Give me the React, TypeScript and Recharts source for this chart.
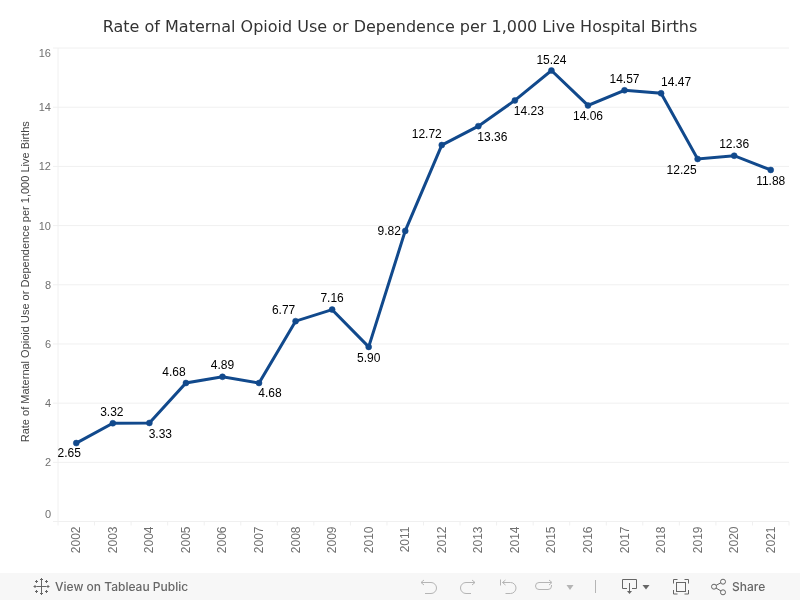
/**
 * Maternal opioid use line chart, with the Tableau Public toolbar underneath.
 */

import React from 'react';
import { CartesianGrid, Label, Line, LineChart, XAxis, YAxis } from 'recharts';

const years = [
  '2002', '2003', '2004', '2005', '2006', '2007', '2008', '2009', '2010', '2011',
  '2012', '2013', '2014', '2015', '2016', '2017', '2018', '2019', '2020', '2021',
];
const rates = [
  2.65, 3.32, 3.33, 4.68, 4.89, 4.68, 6.77, 7.16, 5.9, 9.82,
  12.72, 13.36, 14.23, 15.24, 14.06, 14.57, 14.47, 12.25, 12.36, 11.88,
];
const yTicks = [0, 2, 4, 6, 8, 10, 12, 14, 16];

const chartTitle = 'Rate of Maternal Opioid Use or Dependence per 1,000 Live Hospital Births';
const yTitle = 'Rate of Maternal Opioid Use or Dependence per 1,000 Live Births';

const data = years.map((year, i) => ({ year, rate: rates[i] }));

// hand placed label nudges, one [dx, dy] per year, same order as years
const labelNudges: [number, number][] = [
  [-7, 10], [-1, -11], [11, 11], [-12, -11], [0, -12], [11, 10], [-12, -11], [0, -11.5], [0, 11], [-16, 0],
  [-15, -11], [14, 11], [14, 11], [0, -10.5], [0, 11], [0, -11], [15, -11], [-16, 11], [0, -11.5], [0, 11],
];

const GRID = '#f0f0f0';
const LINE = '#11498c';
const TICK_TEXT = '#707070';
const FONT = '"Liberation Sans", Arial, sans-serif';

const YTick = (props: any) => {
  const { x, y, payload } = props;
  // Tableau keeps the first and last labels inside the pane
  const textY = Math.max(Math.min(y, 514), 53);
  return (
    <g>
      <line x1={x - 5} x2={x} y1={y} y2={y} stroke={GRID} />
      <text x={x - 7} y={textY + 4} textAnchor="end" fontSize={11} fontFamily={FONT} fill={TICK_TEXT}>
        {payload.value}
      </text>
    </g>
  );
};

const XTick = (props: any) => {
  const { x, y, payload, index } = props;
  const half = payload.offset ?? 18.26;
  return (
    <g>
      <line x1={x - half} x2={x - half} y1={y} y2={y + 4} stroke={GRID} />
      {index === years.length - 1 && <line x1={x + half} x2={x + half} y1={y} y2={y + 4} stroke={GRID} />}
      <text
        transform={`translate(${x + 4} ${y + 5}) rotate(-90)`}
        textAnchor="end"
        fontSize={12}
        fontFamily={FONT}
        fill={TICK_TEXT}
      >
        {payload.value}
      </text>
    </g>
  );
};

const PointLabel = (props: any) => {
  const { x, y, index, value } = props;
  const [dx, dy] = labelNudges[index];
  return (
    <text
      x={x + dx}
      y={y + dy + 4}
      textAnchor="middle"
      fontSize={12}
      fontFamily={FONT}
      fill="#000000"
    >
      {Number(value).toFixed(2)}
    </text>
  );
};

const Toolbar = () => {
  const grey = '#666666';
  const faint = '#b5b5b5';
  return (
    <div style={{ position: 'absolute', left: 0, top: 573, width: 800, height: 27, background: '#f7f7f7' }}>
      <svg width={800} height={27} style={{ position: 'absolute', left: 0, top: 0 }}>
        {/* tableau mark */}
        <g stroke={grey} strokeWidth={1}>
          <path d="M41.500 8v11M36.500 13.500h10M41.500 5v3M40 6.500h3M41.500 19v3M40 20.500h3M35 12v3M33.500 13.500h3M48 12v3M46.500 13.500h3M36.500 7v3M35 8.500h3M46.500 7v3M45 8.500h3M36.500 17v3M35 18.500h3M46.500 17v3M45 18.500h3" />
        </g>
        {/* undo, redo, revert, refresh */}
        <g fill="none" stroke={faint} strokeWidth={1}>
          <path d="M421 9.500h10a5.500 5.500 0 0 1 0 11h-6" />
          <path d="M424 7l-3 2.500 3 2.500" />
          <path d="M475 9.500h-9a5.500 5.500 0 0 0 0 11h5" />
          <path d="M472 7l3 2.500-3 2.500" />
          <path d="M500.500 6.500v6" />
          <path d="M502.500 9.500h8a5.500 5.500 0 0 1 0 11h-5" />
          <path d="M505.500 7l-3 2.500 3 2.500" />
          <path d="M551 9.500h-12a3.500 3.500 0 0 0 0 7h9a3.500 3.500 0 0 0 3.500-3.500v-1" />
          <path d="M549 7l3 2.500-3 2.500" />
          <path d="M595.500 7v13" />
        </g>
        <path d="M566.500 12h7l-3.500 5z" fill={faint} />
        {/* download */}
        <g fill="none" stroke={grey} strokeWidth={1}>
          <path d="M627 15.500h-4.500v-9h14v9h-4.500" />
          <path d="M629.500 10v8" />
        </g>
        <path d="M627 18h5l-2.500 3z" fill={grey} />
        <path d="M642.500 12h7l-3.500 4.500z" fill={grey} />
        {/* fit to screen */}
        <g fill="none" stroke={grey} strokeWidth={1}>
          <path d="M673.500 10.500v-4h4M684.500 6.500h4v4M688.500 17v4h-4M677.500 21h-4v-4" />
          <rect x={676.500} y={9.500} width={9} height={9} />
        </g>
        {/* share */}
        <g fill="none" stroke={grey} strokeWidth={1}>
          <circle cx={714} cy={13.700} r={2.500} />
          <circle cx={723} cy={8.700} r={2.500} />
          <circle cx={723} cy={19.300} r={2.500} />
          <path d="M716 12.400l5-2.700M716 15l5 3" />
        </g>
      </svg>
      <span style={{ position: 'absolute', left: 55, top: 6, fontFamily: 'Inter, sans-serif', fontSize: 12, fontWeight: 500, color: grey }}>
        View on Tableau Public
      </span>
      <span style={{ position: 'absolute', left: 732, top: 6, fontFamily: 'Inter, sans-serif', fontSize: 12, fontWeight: 500, color: grey }}>
        Share
      </span>
    </div>
  );
};

const App: React.FC = () => (
  <div style={{ position: 'absolute', left: 0, top: 0, width: 800, height: 600, overflow: 'hidden', willChange: 'transform' }}>
    <div
      style={{
        position: 'absolute',
        left: 0,
        top: 17,
        width: 800,
        textAlign: 'center',
        fontFamily: '"DejaVu Sans", sans-serif',
        fontSize: 16,
        color: '#333333',
        whiteSpace: 'nowrap',
      }}
    >
      {chartTitle}
    </div>
    <LineChart width={800} height={600} data={data} margin={{ top: 48, right: 11, bottom: 0, left: 0 }}>
      <CartesianGrid vertical={false} stroke={GRID} />
      <XAxis
        dataKey="year"
        scale="band"
        interval={0}
        height={78.5}
        axisLine={{ stroke: GRID }}
        tickLine={false}
        tickSize={0}
        tickMargin={0}
        tick={<XTick />}
      />
      <YAxis
        type="number"
        domain={[0, 16]}
        ticks={yTicks}
        width={58}
        axisLine={{ stroke: GRID }}
        tickLine={false}
        tickSize={0}
        tickMargin={0}
        tick={<YTick />}
      >
        <Label
          value={yTitle}
          angle={-90}
          position="insideLeft"
          offset={0}
          dx={25}
          dy={-3}
          fontSize={11}
          fontFamily={FONT}
          fill="#444444"
          style={{ textAnchor: 'middle' }}
        />
      </YAxis>
      <Line
        dataKey="rate"
        stroke={LINE}
        strokeWidth={3}
        dot={{ r: 3, fill: LINE, stroke: LINE, strokeWidth: 0.5 }}
        activeDot={false}
        label={<PointLabel />}
        isAnimationActive={false}
      />
    </LineChart>
    <Toolbar />
  </div>
);

export default App;
